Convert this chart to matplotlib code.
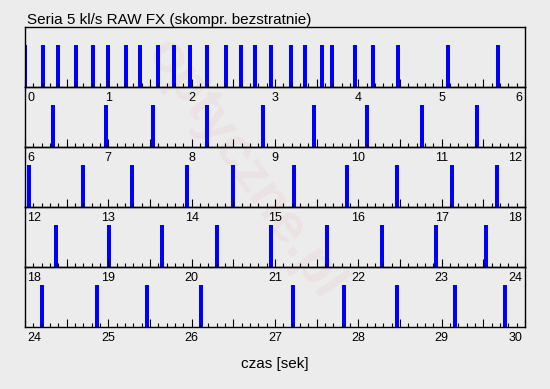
import matplotlib
matplotlib.use("Agg")
import matplotlib.pyplot as plt
import matplotlib.transforms as mtransforms
from matplotlib.ticker import MultipleLocator, NullFormatter

plt.rcParams['font.family'] = ['Liberation Sans', 'DejaVu Sans']

title = "Seria 5 kl/s RAW FX (skompr. bezstratnie)"
xlabel = "czas [sek]"
seconds_per_row = 6
n_rows = 5
# frame times [s]
frame_times = [
    0.0, 0.21, 0.39, 0.61, 0.81, 0.99, 1.21, 1.38, 1.59, 1.79, 1.98, 2.19, 2.41,
    2.59, 2.76, 2.95, 3.19, 3.36, 3.56, 3.68, 3.96, 4.18, 4.48, 5.08, 5.68,
    6.33, 6.97, 7.53, 8.18, 8.86, 9.47, 10.10, 10.76, 11.43,
    12.05, 12.69, 13.29, 13.94, 14.50, 15.23, 15.86, 16.47, 17.12, 17.66,
    18.37, 19.01, 19.65, 20.30, 20.95, 21.62, 22.28, 22.93, 23.53,
    24.21, 24.86, 25.46, 26.11, 27.22, 27.83, 28.46, 29.16, 29.76,
]

W, H = 550, 389
bg = '#ececec'
fig = plt.figure(figsize=(W / 100, H / 100), dpi=100, facecolor=bg)

# watermark
fig.text(245 / W, 1 - 170 / H, "optyczne.pl", rotation=-55, fontsize=40,
         fontweight='bold', color='#e03030', alpha=0.05, ha='center',
         va='center', zorder=-5)

left, right = 25, 525
top0, row_h = 27, 60
for i in range(n_rows):
    t0 = i * seconds_per_row
    t1 = t0 + seconds_per_row
    bottom_px = top0 + row_h * (i + 1)
    ax = fig.add_axes([left / W, 1 - bottom_px / H, (right - left) / W, row_h / H])
    ax.set_facecolor('none')
    ax.set_xlim(t0, t1)
    ax.set_ylim(0, 1)
    times = [t for t in frame_times if t0 <= t < t1]
    ax.bar(times, [0.7] * len(times), width=0.048, color='#0000ff',
           align='center', linewidth=0)
    for s in ax.spines.values():
        s.set_linewidth(1.0)
        s.set_color('black')
    ax.yaxis.set_visible(False)
    ax.xaxis.set_major_locator(MultipleLocator(0.5))
    ax.xaxis.set_minor_locator(MultipleLocator(0.1))
    ax.xaxis.set_major_formatter(NullFormatter())
    ax.tick_params(axis='x', which='major', direction='in', length=6.0,
                   width=0.8, color='black')
    ax.tick_params(axis='x', which='minor', direction='in', length=3.0,
                   width=0.8, color='black')
    for k in range(seconds_per_row + 1):
        v = t0 + k
        if k == 0:
            ha, dx = 'left', 2
        elif k == seconds_per_row:
            ha, dx = 'right', -3
        else:
            ha, dx = 'center', 0
        trans = mtransforms.offset_copy(ax.get_xaxis_transform(), fig=fig,
                                        x=dx, y=-5, units='dots')
        ax.text(v, 0, str(v), transform=trans, ha=ha, va='top', fontsize=9,
                clip_on=False)

fig.text(27 / W, 1 - 24 / H, title, fontsize=11, ha='left', va='baseline')
fig.text(275 / W, 1 - 368 / H, xlabel, fontsize=11, ha='center', va='baseline')

fig.savefig('out.png', dpi=100, facecolor=bg)
